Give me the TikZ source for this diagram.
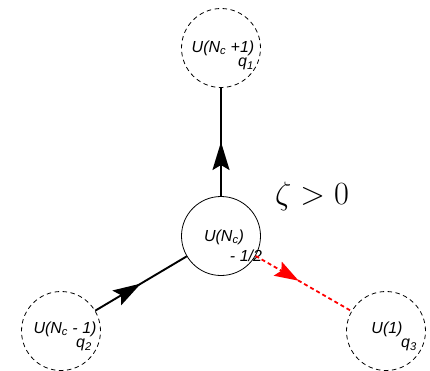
\documentclass[tikz,border=0pt]{standalone}
\usepackage{fontspec}
\newfontfamily\lsans{Liberation Sans}
\usetikzlibrary{arrows.meta,decorations.markings}
\begin{document}
\begin{tikzpicture}[x=1pt,y=-1pt,
  gauge/.style={circle,draw,line width=0.8pt,minimum size=79pt,inner sep=0pt},
  flavor/.style={gauge,dash pattern=on 4.5pt off 3.5pt},
  lab/.style={font=\lsans\itshape\fontsize{16}{18}\selectfont,inner sep=0pt},
  bif/.style={line width=1.9pt,postaction={decorate},
    decoration={markings,mark=at position 0.5 with {\arrow{Stealth[length=28pt,width=17pt,inset=5pt]}}}},
  adj/.style={red,line width=1.8pt,dash pattern=on 4pt off 3pt,postaction={decorate},
    decoration={markings,mark=at position 0.45 with {\arrow{Stealth[length=24pt,width=16pt,inset=4pt]}}}}
]
\useasboundingbox (0,0) rectangle (430,370);

% gauge and flavour nodes
\node[flavor] (q1) at (221,48) {};
\node[gauge]  (c)  at (221,236) {};
\node[flavor] (q2) at (61,331) {};
\node[flavor] (q3) at (386,331) {};

% labels
\node[lab] (l1) at (223,48) {U(N\textsubscript{c} +1)};
\node[lab] (s1) at (246,64) {q\textsubscript{1}};
\node[lab] (lc) at (224,237) {U(N\textsubscript{c})};
\node[lab] (sc) at (246,256) {- 1/2};
\node[lab] (l2) at (65,329) {U(N\textsubscript{c} - 1)};
\node[lab] (s2) at (84,345) {q\textsubscript{2}};
\node[lab] (l3) at (387,329) {U(1)};
\node[lab] (s3) at (409,345) {q\textsubscript{3}};

% stability parameter
\node[inner sep=0pt,font=\Huge] (z) at (312,196) {\scalebox{1.3}{$\zeta>0$}};

% connectors
\draw[bif] (c) -- (q1);
\draw[bif] (q2) -- (c);
\draw[adj] (c) -- (q3);
\end{tikzpicture}
\end{document}
